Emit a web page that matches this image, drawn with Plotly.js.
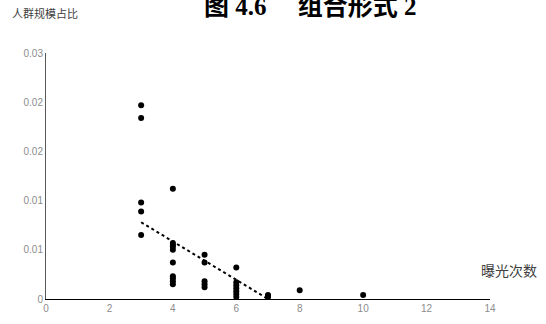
<!DOCTYPE html>
<html>
<head>
<meta charset="utf-8">
<script src="https://cdn.plot.ly/plotly-3.0.1.min.js"></script>
<style>
html,body{margin:0;padding:0;background:#fff;}
#chart{width:546px;height:324px;}
</style>
</head>
<body>
<div id="chart"></div>
<script>
// exposure counts (x) and crowd-size share (y)
const exposureX = [3,3,3,3,3,
  4,4,4,4,4,4,4,4,4,4,
  5,5,5,5,5,
  6,6,6,6,6,6,6,
  7,7,7,
  8,
  10];
const shareY = [0.0197,0.0184,0.0098,0.0089,0.0065,
  0.0112,0.0057,0.0055,0.0053,0.0050,0.0037,0.0023,0.0021,0.0018,0.0015,
  0.0045,0.0037,0.0018,0.0015,0.0012,
  0.0032,0.0017,0.0014,0.0011,0.0008,0.0005,0.0002,
  0.0004,0.0003,0.0002,
  0.0009,
  0.0004];
// dotted trend line endpoints
const trendX = [3, 7];
const trendY = [0.0078, 0];
const yTickVals = [0, 0.005, 0.01, 0.015, 0.02, 0.025];
const yTickText = ['0', '0.01', '0.01', '0.02', '0.02', '0.03'];
const xTickVals = [0, 2, 4, 6, 8, 10, 12, 14];
const titleText = '图 4.6\u3000 组合形式 2';
const yAxisLabel = '人群规模占比';
const xAxisLabel = '曝光次数';

const traces = [
  {x: exposureX, y: shareY, type: 'scatter', mode: 'markers',
   marker: {color: '#000', size: 6}, hoverinfo: 'skip', cliponaxis: false},
  {x: trendX, y: trendY, type: 'scatter', mode: 'lines',
   line: {color: '#000', width: 2, dash: 'dot'}, hoverinfo: 'skip'}
];

const L = 45.5, B = 299.5, W = 444.5, H = 246.5;
const px = v => (v - L) / W;
const py = v => (B - v) / H;

const layout = {
  width: 546, height: 324,
  margin: {l: 45.5, r: 56, t: 53, b: 24.5},
  paper_bgcolor: '#fff', plot_bgcolor: '#fff',
  showlegend: false,
  font: {family: 'Liberation Sans, Noto Sans CJK SC, sans-serif', color: '#8c8c8c', size: 10},
  xaxis: {range: [0, 14], tickvals: xTickVals, ticktext: xTickVals.map(String),
    showgrid: false, zeroline: false, showline: true, linecolor: '#000', linewidth: 1,
    ticks: '', tickfont: {size: 10, color: '#8c8c8c'}, fixedrange: true},
  yaxis: {range: [0, 0.025], tickvals: yTickVals, ticktext: yTickText,
    showgrid: false, zeroline: false, showline: true, linecolor: '#595959', linewidth: 1,
    ticks: '', ticklen: 0, tickfont: {size: 10, color: '#8c8c8c'}, fixedrange: true},
  annotations: [
    {text: titleText, xref: 'paper', yref: 'paper', x: px(310), y: py(6),
     xanchor: 'center', yanchor: 'middle', showarrow: false,
     font: {family: 'Liberation Serif, Noto Sans CJK SC, serif', size: 25, color: '#000', weight: 'bold'}},
    {text: yAxisLabel, xref: 'paper', yref: 'paper', x: px(9), y: py(13),
     xanchor: 'left', yanchor: 'middle', showarrow: false,
     font: {family: 'Noto Sans CJK SC, sans-serif', size: 11, color: '#404040'}},
    {text: xAxisLabel, xref: 'paper', yref: 'paper', x: px(509), y: py(270),
     xanchor: 'center', yanchor: 'middle', showarrow: false,
     font: {family: 'Noto Sans CJK SC, sans-serif', size: 14, color: '#404040'}}
  ]
};

Plotly.newPlot('chart', traces, layout, {staticPlot: true, displayModeBar: false});
</script>
</body>
</html>
